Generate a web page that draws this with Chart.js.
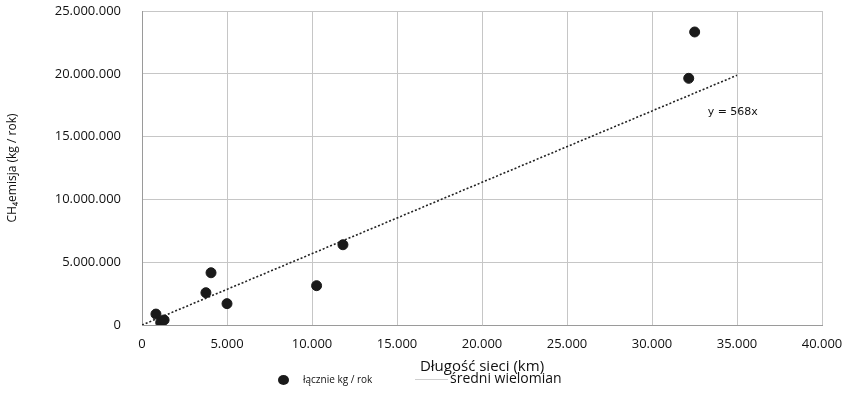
<!DOCTYPE html>
<html lang="pl">
<head>
  <meta charset="UTF-8">
  <title>CH4 emisja vs długość sieci</title>
  <script src="https://cdn.jsdelivr.net/npm/chart.js"></script>
  <style>
    body { margin: 0; background: #fff; font-family: "Open Sans", sans-serif; }
    #wrap { position: relative; width: 844px; height: 416px; }
    .legend { position: absolute; top: 370px; left: 0; width: 844px; height: 20px; color: #111; }
    .legend span { position: absolute; white-space: nowrap; }
  </style>
</head>
<body>
  <div id="wrap">
    <canvas id="chart" width="844" height="416"></canvas>
    <div class="legend">
      <span style="left:278px;top:5px;width:11px;height:10px;border-radius:50%;background:#1a1a1a;"></span>
      <span style="left:303px;top:2px;font-size:10px;">łącznie kg / rok</span>
      <span style="left:415px;top:9px;width:33px;height:1px;background:#cfcfcf;"></span>
      <span style="left:450px;top:-2px;font-size:14px;">średni wielomian</span>
    </div>
  </div>

  <script>
    // Network length (km) and CH4 emission (kg / year)
    const lengthKm = [820, 1100, 1300, 3760, 4060, 5000, 10270, 11820, 32160, 32510];
    const emission = [870000, 200000, 400000, 2570000, 4160000, 1700000, 3130000, 6390000, 19640000, 23330000];

    // Trend line y = 568x drawn from 0 to 35.000 km
    const trendSlope = 568;
    const trendRange = [0, 35000];

    const xTicks = [0, 5000, 10000, 15000, 20000, 25000, 30000, 35000, 40000];
    const yTicks = [0, 5000000, 10000000, 15000000, 20000000, 25000000];

    function fmt(n) {
      return n.toString().replace(/\B(?=(\d{3})+(?!\d))/g, '.');
    }

    const points = lengthKm.map((x, i) => ({ x: x, y: emission[i] }));
    const trend = trendRange.map(x => ({ x: x, y: x * trendSlope }));

    // Label of the trend equation, placed in data coordinates
    const trendLabel = {
      id: 'trendLabel',
      afterDatasetsDraw(chart) {
        const { ctx, scales } = chart;
        const px = scales.x.getPixelForValue(34750);
        const py = scales.y.getPixelForValue(16950000);
        ctx.save();
        ctx.font = '11px "DejaVu Sans", sans-serif';
        ctx.fillStyle = '#111';
        ctx.textAlign = 'center';
        ctx.textBaseline = 'middle';
        ctx.fillText('y = ' + trendSlope + 'x', px, py);
        ctx.restore();
      }
    };

    new Chart(document.getElementById('chart'), {
      type: 'scatter',
      data: {
        datasets: [
          {
            label: 'łącznie kg / rok',
            data: points,
            backgroundColor: '#1a1a1a',
            borderColor: '#1a1a1a',
            pointRadius: 5,
            pointHoverRadius: 5
          },
          {
            type: 'line',
            label: 'średni wielomian',
            data: trend,
            borderColor: '#222',
            borderWidth: 1.6,
            borderDash: [2, 2],
            pointRadius: 0,
            fill: false
          }
        ]
      },
      options: {
        responsive: false,
        animation: false,
        layout: { padding: { top: 11, right: 22, left: 0, bottom: 0 } },
        plugins: {
          legend: { display: false },
          tooltip: { enabled: false }
        },
        scales: {
          x: {
            type: 'linear',
            min: 0,
            max: 40000,
            afterFit(scale) { scale.height = 91; },
            afterBuildTicks(scale) { scale.ticks = xTicks.map(v => ({ value: v })); },
            grid: { color: '#c6c6c6', tickLength: 11, tickColor: 'rgba(0,0,0,0)' },
            border: { color: '#9a9a9a' },
            ticks: {
              padding: 0,
              color: '#111',
              font: { family: '"Open Sans"', size: 13 },
              callback: v => fmt(v)
            },
            title: {
              display: true,
              text: 'Długość sieci (km)',
              color: '#111',
              font: { family: '"Open Sans"', size: 15 },
              padding: { top: 0, bottom: 40 }
            }
          },
          y: {
            type: 'linear',
            min: 0,
            max: 25000000,
            afterFit(scale) { scale.width = 142; },
            afterBuildTicks(scale) { scale.ticks = yTicks.map(v => ({ value: v })); },
            grid: { color: '#c6c6c6', tickLength: 21, tickColor: 'rgba(0,0,0,0)' },
            border: { color: '#9a9a9a' },
            ticks: {
              padding: 0,
              color: '#111',
              font: { family: '"Open Sans"', size: 13 },
              callback: v => fmt(v)
            },
            title: {
              display: true,
              text: 'CH₄emisja (kg / rok)',
              color: '#111',
              font: { family: '"Open Sans"', size: 12 },
              padding: { top: 5, bottom: 0 }
            }
          }
        }
      },
      plugins: [trendLabel]
    });
  </script>
</body>
</html>
